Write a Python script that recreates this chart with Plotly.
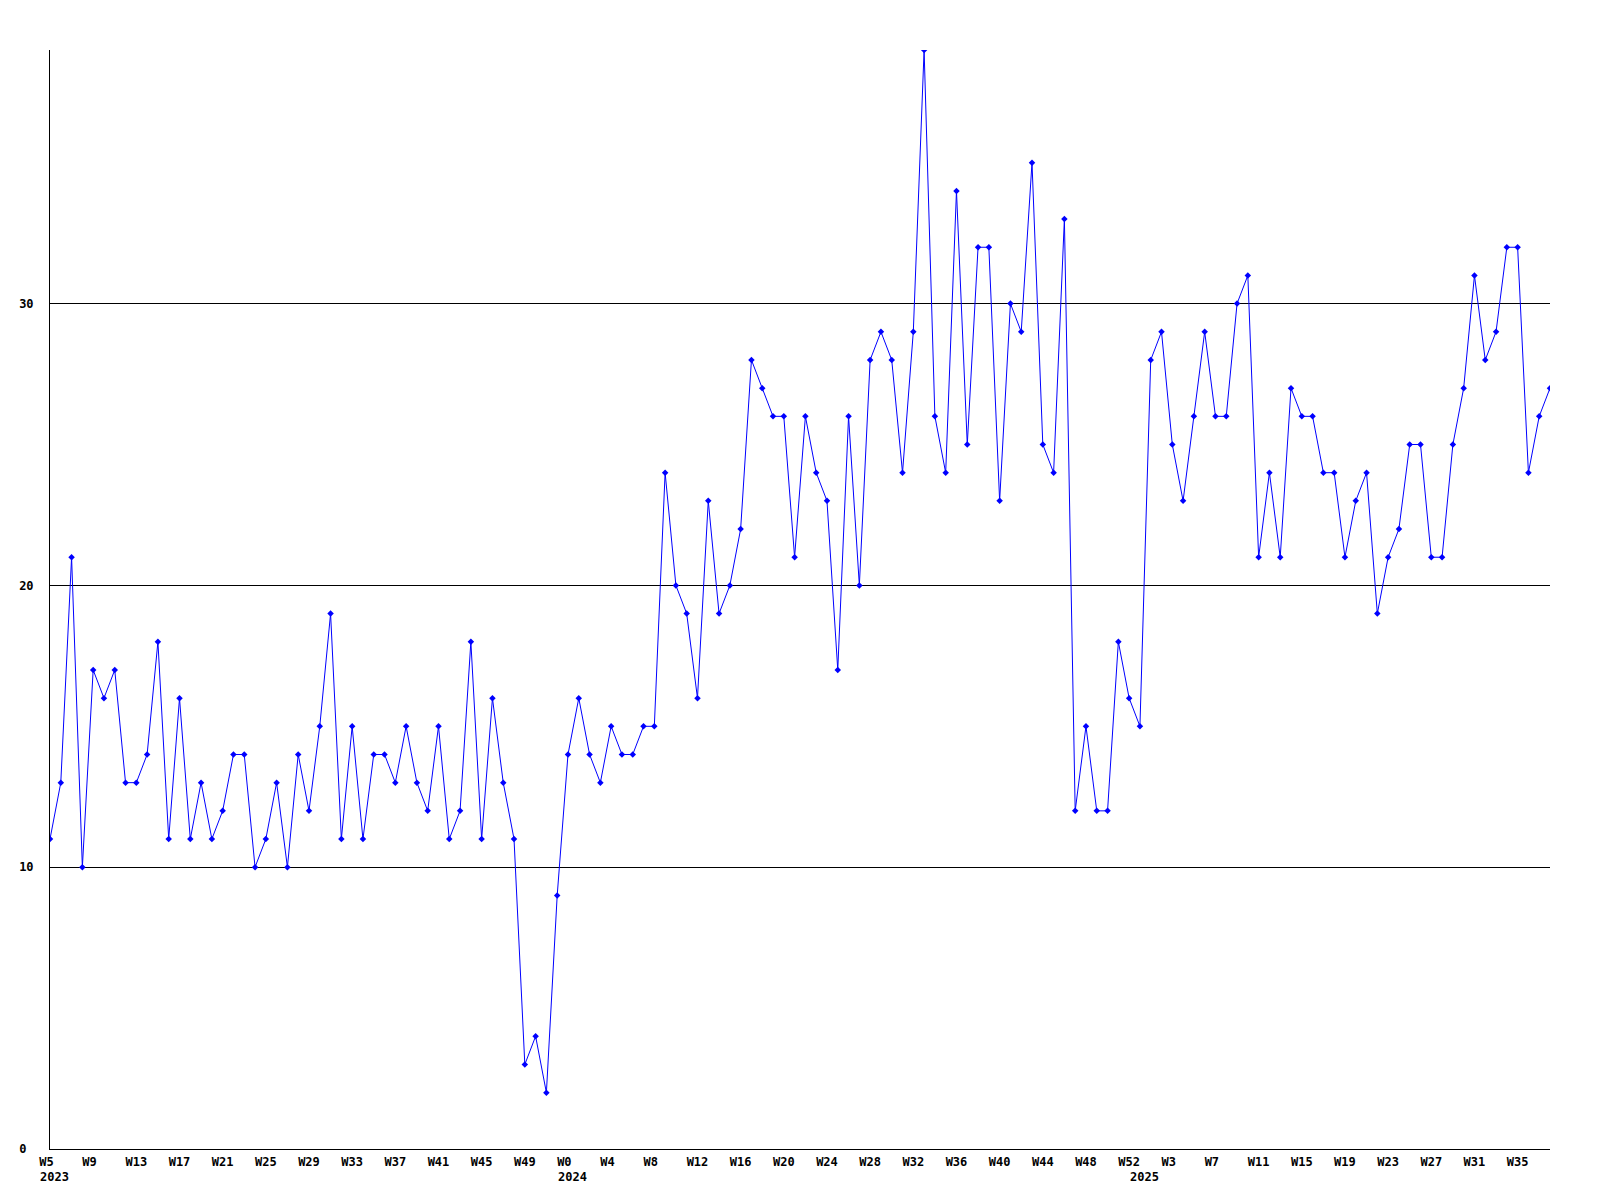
import plotly.graph_objects as go

# Weekly values, 2023 W5 .. 2025 W38
values = [
    11, 13, 21, 10, 17, 16, 17, 13, 13, 14, 18, 11, 16, 11, 13, 11, 12, 14, 14, 10,
    11, 13, 10, 14, 12, 15, 19, 11, 15, 11, 14, 14, 13, 15, 13, 12, 15, 11, 12, 18,
    11, 16, 13, 11, 3, 4, 2, 9, 14, 16, 14, 13, 15, 14, 14, 15, 15, 24, 20, 19,
    16, 23, 19, 20, 22, 28, 27, 26, 26, 21, 26, 24, 23, 17, 26, 20, 28, 29, 28, 24,
    29, 39, 26, 24, 34, 25, 32, 32, 23, 30, 29, 35, 25, 24, 33, 12, 15, 12, 12, 18,
    16, 15, 28, 29, 25, 23, 26, 29, 26, 26, 30, 31, 21, 24, 21, 27, 26, 26, 24, 24,
    21, 23, 24, 19, 21, 22, 25, 25, 21, 21, 25, 27, 31, 28, 29, 32, 32, 24, 26, 27,
]

week_ticks = [
    "W5", "W9", "W13", "W17", "W21", "W25", "W29", "W33", "W37", "W41", "W45", "W49",
    "W0", "W4", "W8", "W12", "W16", "W20", "W24", "W28", "W32", "W36", "W40", "W44",
    "W48", "W52", "W3", "W7", "W11", "W15", "W19", "W23", "W27", "W31", "W35",
]
tick_step = 4

years = ["2023", "2024", "2025"]
year_start_index = [0, 48, 101]

y_ticks = [0, 10, 20, 30]

FONT = "DejaVu Sans Mono"
NBSP = "\u00a0"

x = list(range(len(values)))
tickvals = [i * tick_step for i in range(len(week_ticks))]
# pad to 3 chars so that centred monospace labels look left-aligned
ticktext = [t + NBSP * (3 - len(t)) for t in week_ticks]

fig = go.Figure()
fig.add_trace(go.Scatter(
    x=x, y=values, mode="lines+markers",
    line=dict(color="#0000ff", width=1),
    marker=dict(symbol="diamond", size=5, color="#0000ff", line=dict(width=0)),
    hoverinfo="skip", showlegend=False,
))

for yr, idx in zip(years, year_start_index):
    fig.add_annotation(
        x=idx, y=0, xref="x", yref="paper", text=yr, showarrow=False,
        xanchor="left", yanchor="top", xshift=-12, yshift=-19,
        font=dict(family=FONT, size=12, color="black", weight="bold"),
    )

fig.update_layout(
    width=1600, height=1200,
    margin=dict(l=42, r=58, t=42, b=59, pad=0),
    paper_bgcolor="white", plot_bgcolor="white",
    font=dict(family=FONT, size=12, color="black", weight="bold"),
)
fig.update_xaxes(
    range=[0, len(values) - 1], tickvals=tickvals, ticktext=ticktext,
    showgrid=False, zeroline=False, showline=True, linecolor="black", linewidth=1,
    ticks="", tickangle=0, ticklabelstandoff=2,
    tickfont=dict(family=FONT, size=12, color="black", weight="bold"),
)
fig.update_yaxes(
    range=[0, 39], tickvals=y_ticks,
    ticktext=[str(v) + NBSP * (2 - len(str(v))) for v in y_ticks],
    showgrid=True, gridcolor="black", gridwidth=1, zeroline=False,
    showline=True, linecolor="black", linewidth=1, ticks="",
    ticklabelstandoff=13,
    tickfont=dict(family=FONT, size=12, color="black", weight="bold"),
)

fig.write_html("out.html")
